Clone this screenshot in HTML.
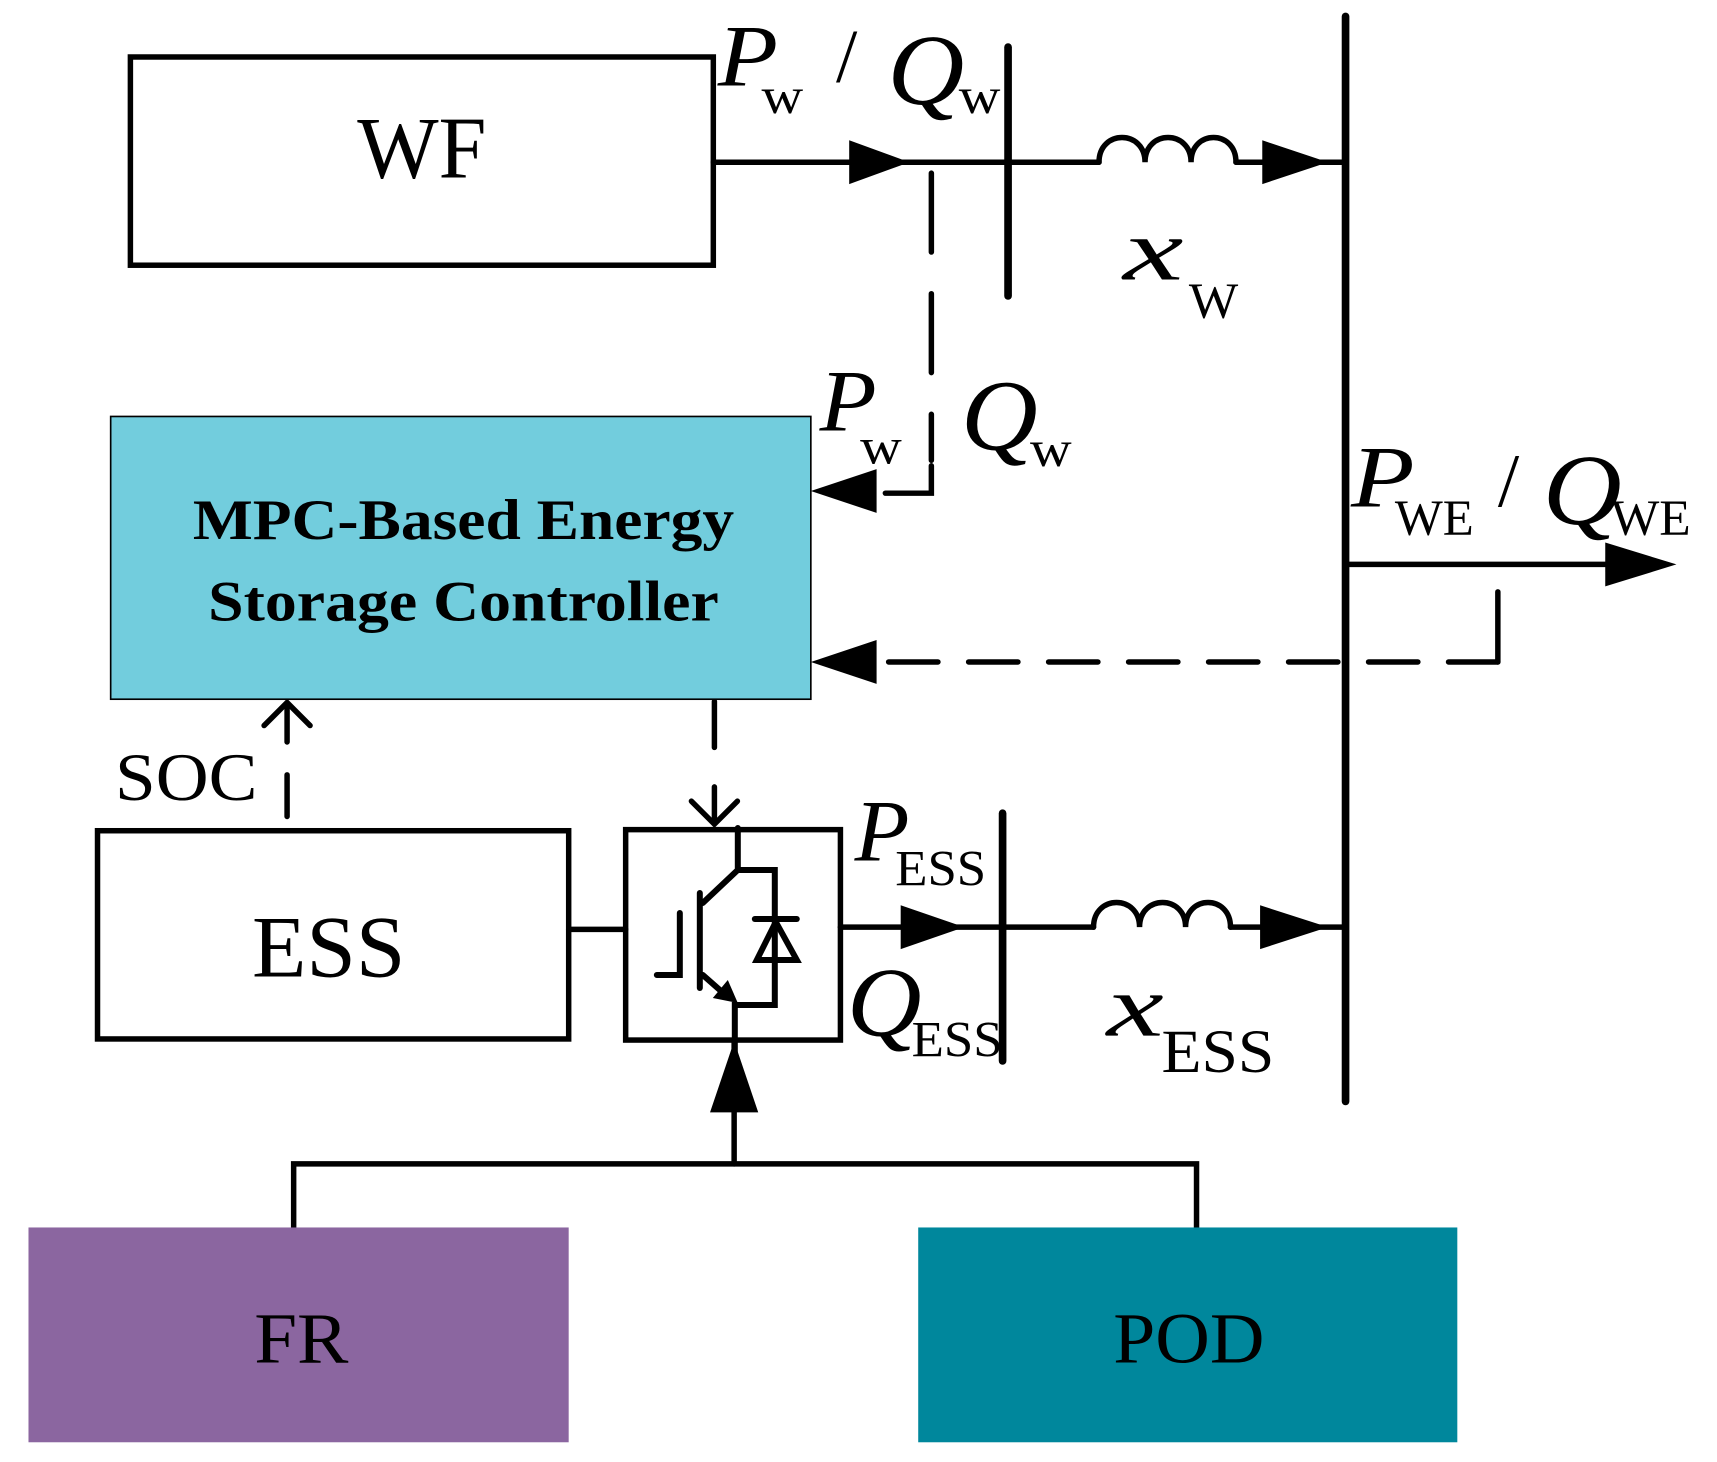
<!DOCTYPE html>
<html><head><meta charset="utf-8"><style>html,body{margin:0;padding:0;background:#fff}svg{display:block}</style></head>
<body>
<svg width="1717" height="1462" viewBox="0 0 1567 1334" preserveAspectRatio="none" xmlns="http://www.w3.org/2000/svg" font-family="'Liberation Serif', serif">
<g stroke="#000" stroke-width="5" fill="none" stroke-linecap="round">
<rect x="119" y="52" width="532" height="190"/>
<line x1="651" y1="148" x2="1003" y2="148"/>
<line x1="1128" y1="148" x2="1228" y2="148"/>
<path d="M1003 148 C1003 118 1045 118 1045 148 C1045 118 1087 118 1087 148 C1087 118 1128 118 1128 148"/>
<line x1="920" y1="43" x2="920" y2="270" stroke-width="7"/>
<line x1="1228" y1="15" x2="1228" y2="1005" stroke-width="7"/>
<line x1="850" y1="158" x2="850" y2="420" stroke-dasharray="72 38"/>
<path d="M850 425 V450 H808"/>
<line x1="1367" y1="540" x2="1367" y2="604"/>
<line x1="1367" y1="604" x2="800" y2="604" stroke-dasharray="45 28"/>
<line x1="1228" y1="515" x2="1470" y2="515"/>
<line x1="262" y1="745" x2="262" y2="645" stroke-dasharray="38 30"/>
<path d="M241 662 L262 641 L283 662"/>
<line x1="652" y1="640" x2="652" y2="750" stroke-dasharray="42 36"/>
<path d="M631 731 L652 752 L673 731"/>
<rect x="89" y="758" width="430" height="190"/>
<line x1="519" y1="848" x2="571" y2="848"/>
<rect x="571" y="757" width="196" height="192"/>
<line x1="767" y1="846" x2="998" y2="846"/>
<line x1="1123" y1="846" x2="1228" y2="846"/>
<path d="M998 846 C998 816 1040 816 1040 846 C1040 816 1082 816 1082 846 C1082 816 1123 816 1123 846"/>
<line x1="915" y1="742" x2="915" y2="968" stroke-width="7"/>
<line x1="670" y1="949" x2="670" y2="1062"/>
<path d="M268 1120 V1062 H1092 V1120"/>
<g transform="scale(0.9124)" stroke-width="6">
<path d="M738 828 V870 L703 903"/>
<path d="M738 870 H775 V1005 H735 V1075"/>
<line x1="700" y1="893" x2="700" y2="988"/>
<path d="M680 913 V975 H657"/>
<line x1="703" y1="975" x2="728" y2="997"/>
<line x1="755" y1="919" x2="797" y2="919"/>
<path d="M757 960 H797 L776 922 Z"/>
</g>
</g>
<g fill="#000">
<polygon points="775,128 830,148 775,168"/>
<polygon points="1152,128 1212,148 1152,168"/>
<polygon points="800,428 740,448 800,468"/>
<polygon points="800,584 740,604 800,624"/>
<polygon points="1465,495 1530,515 1465,535"/>
<polygon points="822,826 880,846 822,866"/>
<polygon points="1150,826 1212,846 1150,866"/>
<polygon points="648,1015 670,950 692,1015"/>
<polygon points="738,1003 713,998 728,980" transform="scale(0.9124)"/>
</g>
<rect x="101" y="380" width="639" height="258" fill="#72CDDD" stroke="#000" stroke-width="1.5"/>
<rect x="26" y="1120" width="493" height="196" fill="#8B66A0"/>
<rect x="838" y="1120" width="492" height="196" fill="#00879C"/>
<g fill="#000">
<text x="385" y="162" font-size="80" text-anchor="middle" textLength="118" lengthAdjust="spacingAndGlyphs">WF</text>
<text x="300" y="891" font-size="80" text-anchor="middle" textLength="140" lengthAdjust="spacingAndGlyphs">ESS</text>
<text x="275" y="1243" font-size="66" text-anchor="middle" textLength="86" lengthAdjust="spacingAndGlyphs">FR</text>
<text x="1085" y="1243" font-size="66" text-anchor="middle" textLength="138" lengthAdjust="spacingAndGlyphs">POD</text>
<text x="105" y="730" font-size="62" textLength="130" lengthAdjust="spacingAndGlyphs">SOC</text>
<text x="423" y="492" font-size="52" font-weight="bold" text-anchor="middle" textLength="494" lengthAdjust="spacingAndGlyphs">MPC-Based Energy</text>
<text x="423" y="566" font-size="52" font-weight="bold" text-anchor="middle" textLength="466" lengthAdjust="spacingAndGlyphs">Storage Controller</text>
<g font-style="italic" font-size="80">
<text x="655" y="78" textLength="55" lengthAdjust="spacingAndGlyphs">P</text>
<text x="810" y="95" font-size="92" textLength="70" lengthAdjust="spacingAndGlyphs">Q</text>
<text x="748" y="393" textLength="52" lengthAdjust="spacingAndGlyphs">P</text>
<text x="877" y="410" font-size="92" textLength="70" lengthAdjust="spacingAndGlyphs">Q</text>
<text x="1025" y="255" textLength="55" lengthAdjust="spacingAndGlyphs">x</text>
<text x="1233" y="462" textLength="58" lengthAdjust="spacingAndGlyphs">P</text>
<text x="1408" y="478" font-size="92" textLength="72" lengthAdjust="spacingAndGlyphs">Q</text>
<text x="780" y="785" textLength="50" lengthAdjust="spacingAndGlyphs">P</text>
<text x="773" y="945" font-size="90" textLength="68" lengthAdjust="spacingAndGlyphs">Q</text>
<text x="1010" y="945" textLength="52" lengthAdjust="spacingAndGlyphs">x</text>
</g>
<g font-size="72">
<text x="763" y="75" font-size="70">/</text>
<text x="1367" y="462" font-size="70">/</text>
</g>
<g font-size="46">
<text x="695" y="103" textLength="38" lengthAdjust="spacingAndGlyphs">w</text>
<text x="875" y="103" textLength="38" lengthAdjust="spacingAndGlyphs">w</text>
<text x="785" y="423" textLength="38" lengthAdjust="spacingAndGlyphs">w</text>
<text x="940" y="425" textLength="38" lengthAdjust="spacingAndGlyphs">w</text>
<text x="1085" y="290" textLength="45" lengthAdjust="spacingAndGlyphs">W</text>
<text x="1273" y="488" textLength="72" lengthAdjust="spacingAndGlyphs">WE</text>
<text x="1470" y="488" textLength="73" lengthAdjust="spacingAndGlyphs">WE</text>
<text x="817" y="808" textLength="83" lengthAdjust="spacingAndGlyphs">ESS</text>
<text x="832" y="964" textLength="83" lengthAdjust="spacingAndGlyphs">ESS</text>
<text x="1060" y="978" font-size="56" textLength="103" lengthAdjust="spacingAndGlyphs">ESS</text>
</g>
</g>
</svg>
</body></html>
